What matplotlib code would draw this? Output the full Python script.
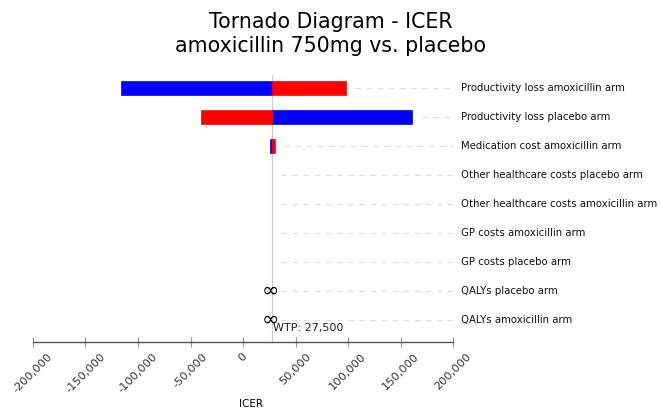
import numpy as np
import matplotlib.pyplot as plt

labels = ["Productivity loss amoxicillin arm",
          "Productivity loss placebo arm",
          "Medication cost amoxicillin arm",
          "Other healthcare costs placebo arm",
          "Other healthcare costs amoxicillin arm",
          "GP costs amoxicillin arm",
          "GP costs placebo arm",
          "QALYs placebo arm",
          "QALYs amoxicillin arm"]
# ICER at each end of the parameter range (nan = no change from base)
blue_vals = [-116000, 161000, 25500, np.nan, np.nan, np.nan, np.nan, np.nan, np.nan]
red_vals = [98000, -40000, 30500, np.nan, np.nan, np.nan, np.nan, np.nan, np.nan]
infinite = [False, False, False, False, False, False, False, True, True]
wtp = 27500
xticks = [-200000, -150000, -100000, -50000, 0, 50000, 100000, 150000, 200000]

fig = plt.figure(figsize=(6.62, 4.12), dpi=100)
ax = fig.add_axes([33/662, 1-342/412, 420/662, 267/412])

y = np.arange(len(labels))
for i in y:
    ends = [wtp]
    for v, c in ((blue_vals[i], "#0000ff"), (red_vals[i], "#ff0000")):
        if not np.isnan(v):
            ax.barh(i, v - wtp, left=wtp, height=0.5, color=c, edgecolor=c, lw=0.5, zorder=3)
            ends.append(v)
    start = max(ends) + 9000
    ax.plot([start, 200000], [i, i], color="#dddddd", lw=0.8, ls=(0, (5, 5)), zorder=1)
    ax.text(208000, i, labels[i], va="center", ha="left", fontsize=7.3, color="#111111")
    if infinite[i]:
        ax.text(wtp - 1500, i, "\u221e", ha="center", va="center", fontsize=15,
                color="black", zorder=4)

ax.axvline(wtp, color="#cccccc", lw=0.8, zorder=2)
ax.text(wtp + 1500, 8.1, "WTP: 27,500", ha="left", va="top", fontsize=8, color="#222222")

ax.set_xlim(-200000, 200000)
ax.set_ylim(8.76, -0.45)
ax.set_yticks([])
for s in ("top", "right", "left"):
    ax.spines[s].set_visible(False)
ax.spines["bottom"].set_color("#555555")
ax.spines["bottom"].set_linewidth(1.0)
ax.set_xticks(xticks)
ax.set_xticklabels([f"{t:,}" for t in xticks], rotation=45, ha="center", va="top",
                   fontsize=8.2, color="#333333")
ax.tick_params(axis="x", direction="inout", length=7, color="#999999", pad=3)
ax.set_xlabel("ICER", fontsize=7.5)
ax.xaxis.set_label_coords(0.52, -0.215)

fig.suptitle("Tornado Diagram - ICER\namoxicillin 750mg vs. placebo", x=0.5, y=0.972,
             fontsize=14.8, linespacing=1.3)

fig.savefig("out.png", dpi=100)
